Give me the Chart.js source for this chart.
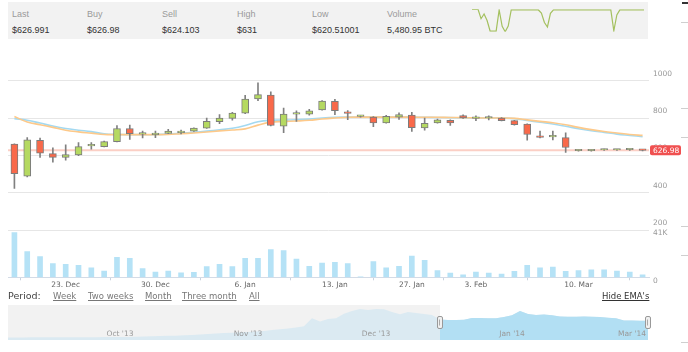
<!DOCTYPE html>
<html>
<head>
  <meta charset="UTF-8">
  <title>BTC Price Chart</title>
  <script src="https://cdn.jsdelivr.net/npm/chart.js"></script>
  <style>
    body { margin: 0; width: 688px; height: 352px; overflow: hidden; background: #fff; position: relative; font-family: "Liberation Sans", Arial, sans-serif; }
    .abs { position: absolute; }
    .stats { left: 8px; top: 2px; width: 640px; height: 37px; background: #f2f2f2; }
    .lbl { font-size: 9px; color: #9a9a9a; top: 7px; white-space: nowrap; }
    .val { font-size: 9px; color: #333; top: 23px; white-space: nowrap; }
    .per { top: 290px; font-family: "DejaVu Sans", sans-serif; font-size: 8.5px; line-height: 12px; color: #777; text-decoration: underline; white-space: nowrap; }
    .stub { left: 681px; width: 7px; height: 1px; background: #cfcfcf; }
  </style>
</head>
<body>
  <div class="abs stats">
    <span class="abs lbl" style="left:4px">Last</span><span class="abs val" style="left:4px">$626.991</span>
    <span class="abs lbl" style="left:79px">Buy</span><span class="abs val" style="left:79px">$626.98</span>
    <span class="abs lbl" style="left:154px">Sell</span><span class="abs val" style="left:154px">$624.103</span>
    <span class="abs lbl" style="left:229px">High</span><span class="abs val" style="left:229px">$631</span>
    <span class="abs lbl" style="left:304px">Low</span><span class="abs val" style="left:304px">$620.51001</span>
    <span class="abs lbl" style="left:379px">Volume</span><span class="abs val" style="left:379px">5,480.95 BTC</span>
  </div>
  <canvas id="spark" class="abs" style="left:472px; top:8px" width="172" height="25"></canvas>

  <canvas id="main" class="abs" style="left:0; top:44px" width="688" height="250"></canvas>

  <span class="abs per" style="left:8px; font-size:9.5px; color:#444; text-decoration:none">Period:</span>
  <span class="abs per" style="left:53px">Week</span>
  <span class="abs per" style="left:88px">Two weeks</span>
  <span class="abs per" style="left:145px">Month</span>
  <span class="abs per" style="left:182px">Three month</span>
  <span class="abs per" style="left:249px">All</span>
  <span class="abs per" style="left:602px; color:#333">Hide EMA's</span>

  <canvas id="nav" class="abs" style="left:0; top:300px" width="688" height="45"></canvas>

  <div class="abs" style="left:682px; top:2px; width:6px; height:2px; background:#333"></div>
  <div class="abs stub" style="top:22px"></div>
  <div class="abs stub" style="top:108px"></div>
  <div class="abs stub" style="top:137px"></div>
  <div class="abs stub" style="top:226px"></div>
  <div class="abs stub" style="top:255px"></div>
  <div class="abs stub" style="top:342px"></div>

<script>
// daily candles, ordinal axis (gaps in the data are not shown)
const dates = ['19. Dec','20. Dec','21. Dec','22. Dec','23. Dec','24. Dec','25. Dec','26. Dec','27. Dec','28. Dec',
  '29. Dec','30. Dec','31. Dec','1. Jan','2. Jan','3. Jan','4. Jan','5. Jan','6. Jan','7. Jan',
  '8. Jan','9. Jan','10. Jan','11. Jan','12. Jan','13. Jan','15. Jan','17. Jan','20. Jan','22. Jan',
  '24. Jan','27. Jan','28. Jan','30. Jan','1. Feb','2. Feb','3. Feb','8. Feb','13. Feb','18. Feb',
  '22. Feb','26. Feb','1. Mar','5. Mar','10. Mar','11. Mar','12. Mar','13. Mar','14. Mar','15. Mar'];
const tickDates = ['23. Dec', '30. Dec', '6. Jan', '13. Jan', '27. Jan', '3. Feb', '10. Mar'];

const opens  = [660,488,681,609,589,602,651,647,674,744, 714,711,718,721,730,746,781,798,826,903,
                923,756,821,821,844,889,832,809,805,774, 805,816,747,774,788,813,798,800,800,786,
                767,705,699,695,625,625,629,629,630,628];
const highs  = [662,695,693,640,656,668,668,676,760,762, 730,730,739,735,748,800,818,830,921,989,
                940,853,839,846,893,900,840,814,808,814, 828,830,800,795,790,817,812,812,803,788,
                769,730,730,721,628,629,634,633,633,630];
const lows   = [423,485,589,563,575,598,633,645,672,686, 693,695,716,715,728,744,770,788,824,893,
                758,721,782,815,842,818,791,805,754,772, 792,728,735,772,760,798,786,790,784,762,
                681,694,683,616,622,622,626,626,627,624];
const closes = [502,683,612,589,604,647,652,674,744,716, 715,719,730,730,746,782,800,826,902,925,
                760,821,822,839,891,840,825,810,774,809, 818,749,772,791,774,800,799,801,786,765,
                712,696,701,642,626,627,631,630,631,627];
const volumes = [37900,21900,17500,11600,11100,10200,8000,5200,16900,16000, 7500,4400,5200,3800,4200,9100,11100,9100,16000,16000,
                 23500,22700,15500,9400,12100,12700,11600,500,13300,8000, 9400,18000,14400,5800,3600,2200,4400,3600,2700,5000,
                 10200,8000,8600,5000,5800,6300,6300,5200,4400,2200];
const emaOrange = [808,779,764,750,735,726,719,712,711,711, 711,711,712,716,720,725,731,736,742,762,
                   778,781,784,788,795,800,804,805,805,805, 805,805,804,804,803,802,801,800,800,798,
                   790,782,775,764,750,738,728,720,712,707];
const emaBlue   = [797,788,773,757,744,735,727,716,712,711, 711,711,714,719,724,730,737,745,760,780,
                   788,789,791,794,800,804,805,805,805,805, 805,805,804,803,802,801,800,800,800,797,
                   787,777,768,756,743,732,723,714,707,700];
const lastPrice = 626.98;
const priceTicks = [200, 400, 600, 800, 1000];
const volumeTicks = [0, 41000];

// trade sparkline in the header
const sparkValues = [100,100,100,58,79,50,3,3,3,97, 24,0,25,97,97,97,97,97,97,97,
                     97,97,97,83,41,21,82,97,97,97, 97,97,97,97,97,97,97,97,97,97,
                     97,97,97,97,97,97,97,4,75,97, 97,97,97,97,97,97,97,97];

// navigator (full history)
const navPrice = [80,82,84,85,86,86,87,88,88,89,90,92,94,95,97,100,
                  105,112,120,128,134,140,152,165,180,192,210,222,235,248,260,275,292,320,345,370,400,440,
                  700,600,680,700,850,935,1000,968,1000,990,900,830,900,870,840,810,
                  660,645,645,650,710,710,700,700,740,800,935,840,810,820,800,760,750,750,760,750,740,720,700,630,625,623,623];
const navTickIdx = [14, 30, 46, 63, 78];
const navTickText = ["Oct '13", "Nov '13", "Dec '13", "Jan '14", "Mar '14"];
const navSelStart = 54;

Chart.defaults.font.family = '"DejaVu Sans", sans-serif';
Chart.defaults.animation = false;
Chart.defaults.plugins.legend.display = false;
Chart.defaults.plugins.tooltip.enabled = false;

const axisFont = { size: 7.5 };
// axes squeezed to zero size still need their labels, so skip the label clip
const noLabelClip = s => { s._computeLabelArea = () => undefined; };

const lastPricePlugin = {
  id: 'lastPrice',
  beforeDatasetsDraw(chart) {
    const { ctx, chartArea } = chart;
    const y = chart.scales.y.getPixelForValue(lastPrice);
    ctx.save();
    ctx.strokeStyle = 'rgba(248,160,140,0.5)';
    ctx.lineWidth = 2;
    ctx.beginPath();
    ctx.moveTo(chartArea.left, y);
    ctx.lineTo(chartArea.right, y);
    ctx.stroke();
    ctx.restore();
  },
  afterDraw(chart) {
    const { ctx, chartArea } = chart;
    const y = chart.scales.y.getPixelForValue(lastPrice);
    const x = chartArea.right + 1;
    ctx.save();
    ctx.fillStyle = '#f05050';
    ctx.beginPath();
    ctx.roundRect(x, y - 5, 31, 10, 2);
    ctx.fill();
    ctx.fillStyle = '#fff';
    ctx.font = '7.5px "DejaVu Sans"';
    ctx.textBaseline = 'middle';
    ctx.fillText(lastPrice.toFixed(2), x + 3, y + 0.5);
    ctx.restore();
  }
};

new Chart(document.getElementById('main'), {
  data: {
    labels: dates,
    datasets: [
      {
        type: 'bar', yAxisID: 'y', order: 1, grouped: false,
        data: opens.map((o, i) => [o, closes[i]]),
        backgroundColor: closes.map((c, i) => c >= opens[i] ? '#b5d961' : '#f9694a'),
        borderColor: '#7c7c7c', borderWidth: 1, borderSkipped: false,
        barThickness: 7, minBarLength: 1.5
      },
      {
        type: 'bar', yAxisID: 'y', order: 2, grouped: false,
        data: lows.map((l, i) => [l, highs[i]]),
        backgroundColor: '#808080', barThickness: 1
      },
      {
        type: 'line', yAxisID: 'y', order: 3, data: emaOrange,
        borderColor: '#fdc98a', borderWidth: 1.6, pointRadius: 0, tension: 0.4
      },
      {
        type: 'line', yAxisID: 'y', order: 4, data: emaBlue,
        borderColor: '#a3d9f1', borderWidth: 1.6, pointRadius: 0, tension: 0.4
      },
      {
        type: 'bar', yAxisID: 'yv', order: 5, grouped: false, data: volumes,
        backgroundColor: '#b5e2f6', barThickness: 5
      }
    ]
  },
  options: {
    responsive: false,
    layout: { padding: { left: 8, top: 4, right: 0, bottom: 0 } },
    scales: {
      x: {
        offset: true,
        grid: { drawOnChartArea: false, drawTicks: true, tickLength: 3, color: '#c9d3df' },
        border: { display: true, color: '#d3dbe6' },
        ticks: {
          autoSkip: false, maxRotation: 0, padding: 0, color: '#666', font: axisFont,
          callback: (v, i) => tickDates.includes(dates[i]) ? dates[i] : null
        },
        afterFit: s => { s.height = 16.7; }
      },
      y: {
        position: 'right', weight: 1, min: -53, max: 1151,
        grid: { color: '#e6e6e6', drawTicks: false },
        border: { display: false },
        ticks: { padding: 4, labelOffset: -7, color: '#999', font: axisFont, callback: v => String(v) },
        afterBuildTicks: s => { s.ticks = priceTicks.map(v => ({ value: v })); },
        afterFit: s => { s.width = 39; }
      },
      yv: {
        position: 'right', weight: 0, min: 0, max: 190700,
        grid: { display: false, drawTicks: false },
        border: { display: false },
        ticks: { padding: 4, labelOffset: 4, color: '#999', font: axisFont, callback: v => v === 0 ? '0' : (v / 1000) + 'K' },
        afterBuildTicks: s => { s.ticks = volumeTicks.map(v => ({ value: v })); },
        afterFit: s => { s.width = 0; noLabelClip(s); }
      }
    }
  },
  plugins: [lastPricePlugin]
});

new Chart(document.getElementById('spark'), {
  type: 'line',
  data: {
    labels: sparkValues.map((_, i) => i),
    datasets: [{ data: sparkValues, borderColor: '#a4c05f', borderWidth: 1.2, pointRadius: 0, tension: 0 }]
  },
  options: {
    responsive: false,
    layout: { padding: { top: 1.3, bottom: 1.3, left: 0, right: 0 } },
    scales: { x: { display: false }, y: { display: false, min: 0, max: 100 } }
  }
});

const navPlugin = {
  id: 'navSelection',
  beforeDraw(chart) {
    const { ctx, chartArea } = chart;
    const sx = chart.scales.x.getPixelForValue(navSelStart);
    ctx.save();
    ctx.fillStyle = '#f2f2f2';
    ctx.fillRect(chartArea.left, chartArea.top, sx - chartArea.left, chartArea.bottom - chartArea.top);
    ctx.restore();
  },
  afterDraw(chart) {
    const { ctx, chartArea } = chart;
    const xs = [chart.scales.x.getPixelForValue(navSelStart), chartArea.right];
    const cy = (chartArea.top + chartArea.bottom) / 2;
    ctx.save();
    xs.forEach(x => {
      ctx.fillStyle = '#f0f0f0';
      ctx.strokeStyle = '#999';
      ctx.lineWidth = 1;
      ctx.beginPath();
      ctx.roundRect(Math.round(x) - 2.5, Math.round(cy) - 6.5, 5, 12, 1.5);
      ctx.fill();
      ctx.stroke();
      ctx.strokeStyle = '#aaa';
      ctx.beginPath();
      ctx.moveTo(Math.round(x) - 0.5, cy - 3);
      ctx.lineTo(Math.round(x) - 0.5, cy + 3);
      ctx.stroke();
    });
    ctx.restore();
  }
};

new Chart(document.getElementById('nav'), {
  type: 'line',
  data: {
    labels: navPrice.map((_, i) => i),
    datasets: [
      { data: navPrice, order: 2, fill: 'origin', backgroundColor: '#dbeaf2', borderWidth: 0, pointRadius: 0 },
      { data: navPrice.map((v, i) => i >= navSelStart ? v : null), order: 1, fill: 'origin',
        backgroundColor: '#b2dff3', borderWidth: 0, pointRadius: 0 }
    ]
  },
  options: {
    responsive: false,
    layout: { padding: { left: 8, right: 40, top: 5, bottom: 5 } },
    scales: {
      x: {
        offset: false,
        grid: { display: false, drawTicks: false },
        border: { display: false },
        ticks: {
          autoSkip: false, maxRotation: 0, padding: -10, z: 1, color: '#999', font: axisFont,
          callback: (v, i) => { const k = navTickIdx.indexOf(i); return k >= 0 ? navTickText[k] : null; }
        },
        afterFit: s => { s.height = 0; noLabelClip(s); }
      },
      y: { display: false, min: 0, max: 1129 }
    }
  },
  plugins: [navPlugin]
});
</script>
</body>
</html>
